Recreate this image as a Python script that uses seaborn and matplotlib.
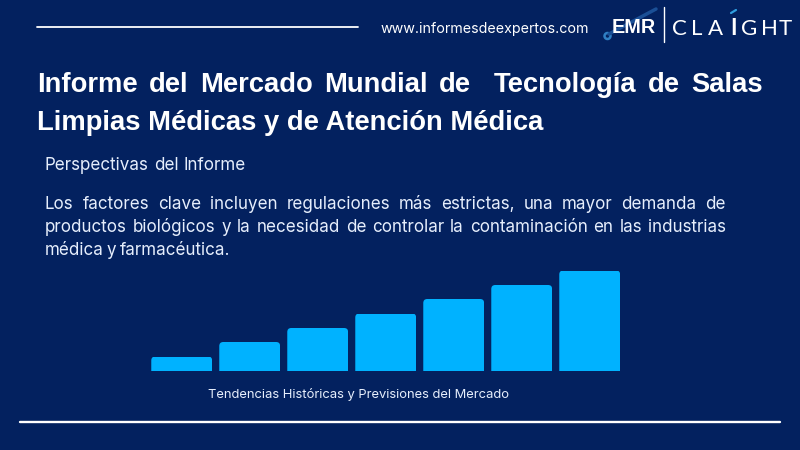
import matplotlib
matplotlib.use("Agg")
import matplotlib.pyplot as plt
import seaborn as sns
import pandas as pd
from matplotlib.patches import FancyBboxPatch, Circle
from matplotlib.lines import Line2D
from matplotlib.transforms import IdentityTransform

periods = ["P1", "P2", "P3", "P4", "P5", "P6", "P7"]
values = [14, 28.5, 42.5, 57, 71.5, 85.5, 100]
title_lines = ["Informe del Mercado Mundial de  Tecnología de Salas",
               "Limpias Médicas y de Atención Médica"]
subtitle = "Perspectivas del Informe"
body_lines = ["Los factores clave incluyen regulaciones más estrictas, una mayor demanda de",
              "productos biológicos y la necesidad de controlar la contaminación en las industrias",
              "médica y farmacéutica."]
caption = "Tendencias Históricas y Previsiones del Mercado"
website = "www.informesdeexpertos.com"

BG = "#03215f"
BAR = "#00b2ff"
W, H = 800, 450

sns.set_theme(style="white")
plt.rcParams["font.family"] = ["Inter", "DejaVu Sans"]
fig = plt.figure(figsize=(8, 4.5), dpi=100, facecolor=BG)
ax = fig.add_axes([147.7 / W, 1 - 370.5 / H, 476 / W, 100 / H])
df = pd.DataFrame({"period": periods, "value": values})
sns.barplot(data=df, x="period", y="value", color=BAR, saturation=1, width=0.895, ax=ax)
ax.set_xlim(-0.5, 6.5)
ax.set_ylim(0, 100)
ax.set_axis_off()
fig.canvas.draw()
for bar in ax.patches:
    bar.set_linewidth(0)
    bar.set_clip_on(True)
    e = bar.get_window_extent()
    r = 4
    clip = FancyBboxPatch((e.x0 + r, e.y0 - 2 * r), e.width - 2 * r, e.height + r,
                          boxstyle=f"round,pad={r},rounding_size={r}", transform=IdentityTransform())
    bar.set_clip_path(clip)

renderer = fig.canvas.get_renderer()

def px(x, y):
    return x / W, 1 - y / H

def justify(line, x0, x1, y, **kw):
    items = []
    gaps = 0
    pending = 0
    for w in line.split(" "):
        if w == "":
            pending += 1
            continue
        t = fig.text(*px(x0, y), w, va="baseline", ha="left", **kw)
        g = pending if items else 0
        items.append((t, t.get_window_extent(renderer).width, g))
        gaps += g
        pending = 1
    total = sum(i[1] for i in items)
    unit = (x1 - x0 - total) / gaps
    x = x0
    for t, w, g in items:
        x += g * unit
        t.set_position(px(x, y))
        x += w

TITLE = dict(family=["Liberation Sans"], weight="bold", fontsize=19.75, color="white")
BODY = dict(fontsize=12.25, color="#e6eefc")

justify(title_lines[0], 37, 763, 92, **TITLE)
fig.text(*px(37, 130), title_lines[1], va="baseline", **TITLE)
justify(subtitle, 45, 246, 170, **BODY)
justify(body_lines[0], 45, 726, 209, **BODY)
justify(body_lines[1], 45, 726, 232, **BODY)
justify(body_lines[2], 45, 230, 255, **BODY)
fig.text(*px(208, 398), caption, va="baseline", fontsize=9.35, color="#e6eefc")
fig.text(*px(381, 33), website, va="baseline", fontsize=10.25, color="white")

def hline(x0, x1, y, lw):
    fig.add_artist(Line2D([x0 / W, x1 / W], [1 - y / H] * 2, color="white", lw=lw, transform=fig.transFigure))

hline(37, 358, 27, 1.3)
hline(20, 780, 422, 1.7)
fig.add_artist(Line2D([664 / W] * 2, [1 - 7 / H, 1 - 42 / H], color="white", lw=1, transform=fig.transFigure))

# logo
fig.add_artist(Line2D([609 / W, 656 / W], [1 - 34 / H, 1 - 9 / H], color="#1a4f96", lw=2.5, transform=fig.transFigure))
fig.add_artist(Circle((607.5, H - 36), 3, fill=False, ec="#2f7fc4", lw=1.8, transform=IdentityTransform()))
fig.text(*px(611.5, 33), "EMR", va="baseline", family=["Liberation Sans"], weight="bold", fontsize=14.2, color="white")
for ch, x in zip("CLAIGHT", [672, 691, 708, 730, 741, 761, 779]):
    fig.text(*px(x, 35), ch, va="baseline", family=["Lato"], fontsize=16, color="white",
             weight="bold" if ch == "I" else "normal")
fig.add_artist(Line2D([731 / W, 736 / W], [1 - 13 / H, 1 - 10 / H], color="#2f9fe0", lw=1.6, transform=fig.transFigure))

fig.savefig("out.png", dpi=100, facecolor=BG)
